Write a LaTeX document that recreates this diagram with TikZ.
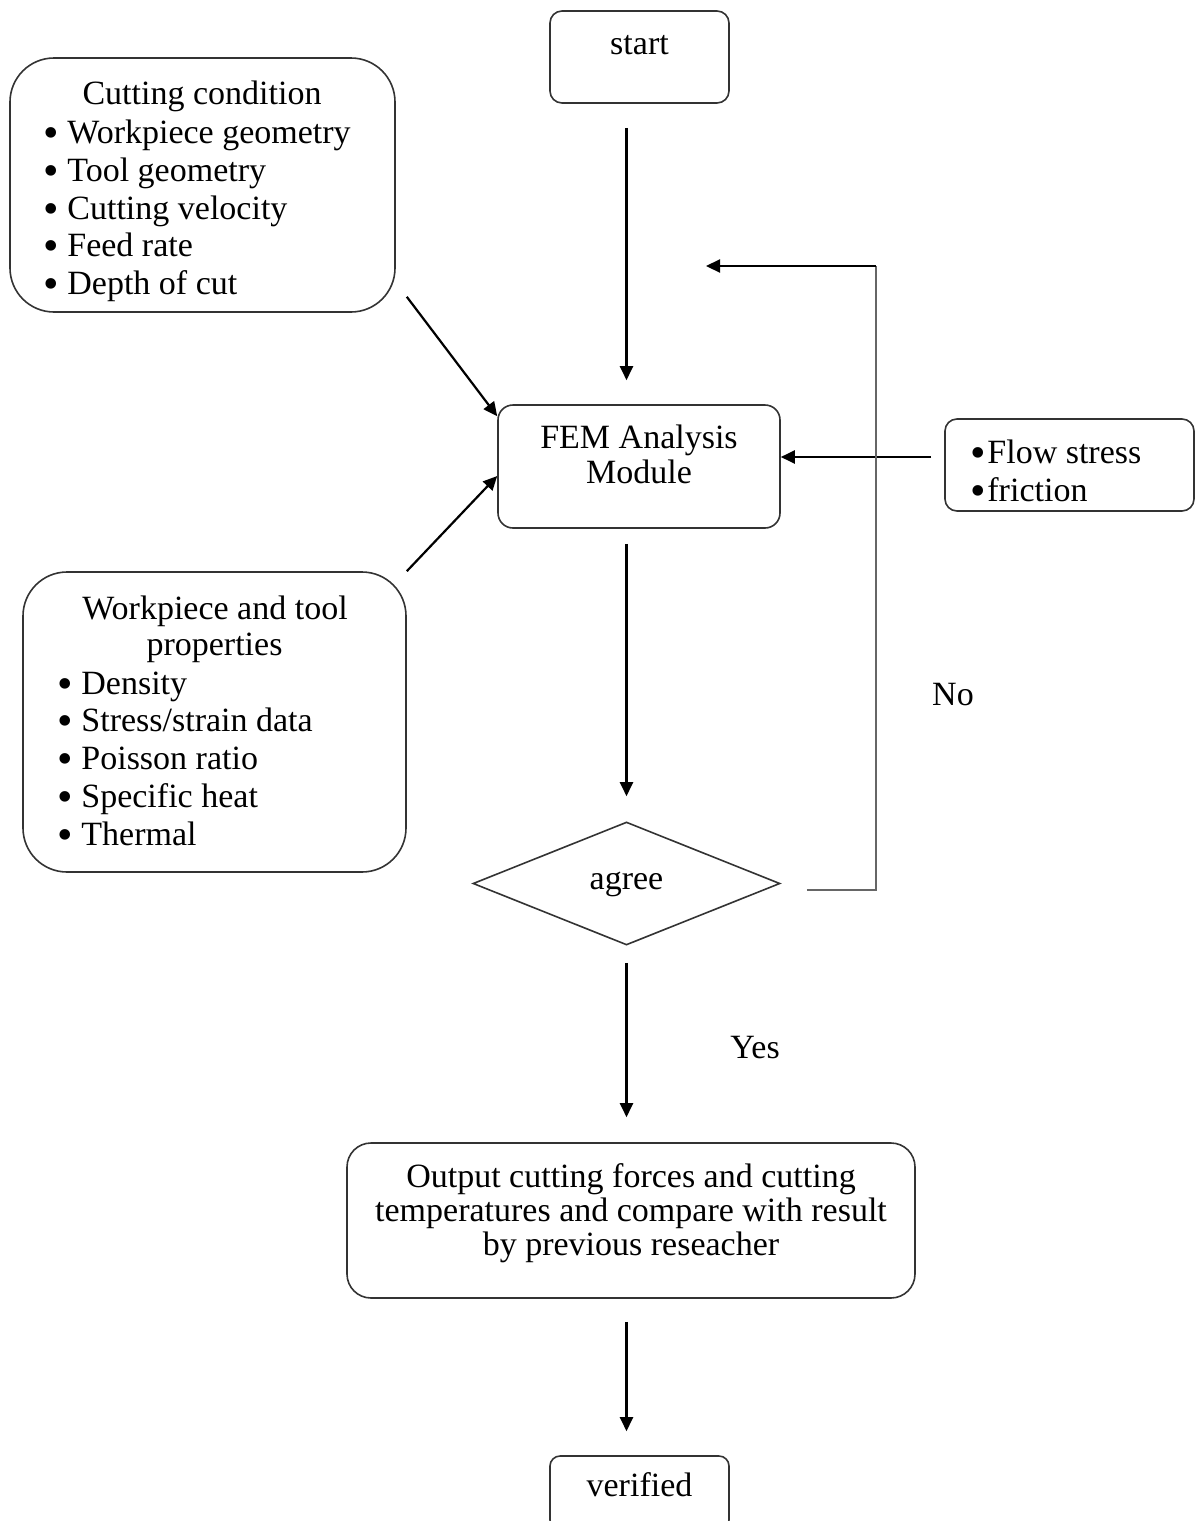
\documentclass[tikz,border=0pt]{standalone}
\usepackage{fontspec}
\setmainfont{Liberation Serif}
\usetikzlibrary{shapes.geometric,arrows.meta,calc}
\newcommand\lbul{\makebox[12pt][l]{\smash{\raisebox{-2pt}{\scalebox{1.3}{\textbullet}}}}}
\newcommand\sbul{\makebox[8.5pt][l]{\smash{\raisebox{-2pt}{\scalebox{1.3}{\textbullet}}}}}
\begin{document}
\begin{tikzpicture}[x=0.5pt,y=-0.5pt,
  box/.style={draw=black!80,line width=0.8pt,inner sep=0pt},
  txt/.style={inner sep=0pt,font=\fontsize{17}{20}\selectfont},
  arr/.style={line width=1.1pt,-{Triangle[length=7pt,width=6.5pt]}},
]
\useasboundingbox (0,0) rectangle (1195,1521);

% boxes
\node[box,rounded corners=6pt,minimum width=89.5pt,minimum height=46pt] (start) at (639.5,57) {};
\node[box,rounded corners=22pt,minimum width=192.5pt,minimum height=127pt] (cond) at (202.5,185) {};
\node[box,rounded corners=7.5pt,minimum width=141pt,minimum height=61.5pt] (FEM) at (639,466.5) {};
\node[box,rounded corners=6pt,minimum width=124.5pt,minimum height=46pt] (flow) at (1069.5,465) {};
\node[box,rounded corners=22pt,minimum width=191.5pt,minimum height=150pt] (props) at (214.5,722) {};
\node[box,diamond,minimum width=153.5pt,minimum height=61.5pt] (dec) at (626.5,883.5) {};
\node[box,rounded corners=12pt,minimum width=284pt,minimum height=77.5pt] (out) at (631,1220.5) {};
\node[box,rounded corners=5pt,minimum width=89.5pt,minimum height=37pt] (ver) at (639.5,1493) {};

% texts
\node[txt,anchor=base] (tstart) at (639.5,54) {start};

\node[txt,anchor=base] (c0) at (202,104) {Cutting condition};
\node[txt,anchor=base west] (c1) at (43,143) {\lbul Workpiece geometry};
\node[txt,anchor=base west] (c2) at (43,181) {\lbul Tool geometry};
\node[txt,anchor=base west] (c3) at (43,219) {\lbul Cutting velocity};
\node[txt,anchor=base west] (c4) at (43,256) {\lbul Feed rate};
\node[txt,anchor=base west] (c5) at (43,294) {\lbul Depth of cut};

\node[txt,anchor=base] (f1) at (639,448) {FEM Analysis};
\node[txt,anchor=base] (f2) at (639,483) {Module};

\node[txt,anchor=base west] (fl1) at (970,463) {\sbul Flow stress};
\node[txt,anchor=base west] (fl2) at (970,501) {\sbul friction};

\node[txt,anchor=base] (p0) at (215,619) {Workpiece and tool};
\node[txt,anchor=base] (p1) at (214.5,655) {properties};
\node[txt,anchor=base west] (p2) at (57,694) {\lbul Density};
\node[txt,anchor=base west] (p3) at (57,731) {\lbul Stress/strain data};
\node[txt,anchor=base west] (p4) at (57,769) {\lbul Poisson ratio};
\node[txt,anchor=base west] (p5) at (57,807) {\lbul Specific heat};
\node[txt,anchor=base west] (p6) at (57,845) {\lbul Thermal};

\node[txt,anchor=base] (tagree) at (626.5,889) {agree};
\node[txt,anchor=base] (tno) at (953,705) {No};
\node[txt,anchor=base] (tyes) at (755,1058) {Yes};

\node[txt,anchor=base] (o1) at (631,1187) {Output cutting forces and cutting};
\node[txt,anchor=base] (o2) at (631,1221) {temperatures and compare with result};
\node[txt,anchor=base] (o3) at (631,1255) {by previous reseacher};

\node[txt,anchor=base] (tver) at (639.5,1496) {verified};

% connectors
\draw[arr,shorten <=12pt,shorten >=12pt] (start.south -| dec.center) -- (FEM.north -| dec.center);
\draw[arr,shorten <=7.5pt,shorten >=12.5pt] (FEM.south -| dec.center) -- (dec.north);
\draw[arr,shorten <=8.5pt,shorten >=12.5pt] (dec.south) -- (out.north -| dec.center);
\draw[arr,shorten <=11.5pt,shorten >=12pt] (out.south -| dec.center) -- (ver.north -| dec.center);

\draw[arr] ([xshift=5.5pt,yshift=8pt]cond.south east) -- ([yshift=-6pt]FEM.north west);
\draw[arr] (props.north east) -- ([yshift=-4.75pt]FEM.west);
\draw[arr,shorten <=6.5pt] ([yshift=4pt]flow.west) -- ([yshift=4pt]flow.west -| FEM.east);

\coordinate (fb1) at (876,890);
\coordinate (fb2) at (876,266);
\coordinate (fbend) at (706,266);
\draw[line width=1pt,black!60] ([xshift=13pt,yshift=-3.25pt]dec.east) -- (fb1) -- (fb2);
\draw[arr] (fb2) -- (fbend);
\end{tikzpicture}
\end{document}
